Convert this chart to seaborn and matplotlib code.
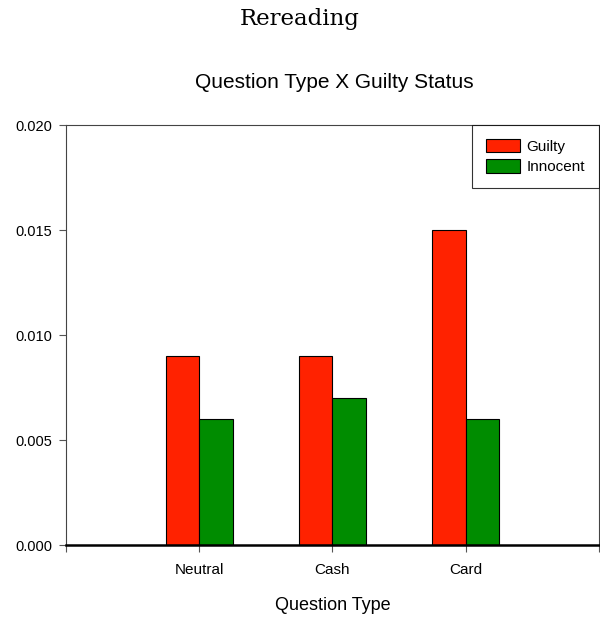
import pandas as pd
import matplotlib
matplotlib.use("Agg")
import matplotlib.pyplot as plt
import seaborn as sns
from matplotlib.ticker import FormatStrFormatter

# ---- data ----
question_types = ["Neutral", "Cash", "Card"]
status_levels = ["Guilty", "Innocent"]
guilty_vals = [0.009, 0.009, 0.015]
innocent_vals = [0.006, 0.007, 0.006]
# -------------------------------------

palette = {"Guilty": "#ff2200", "Innocent": "#008c00"}

df = pd.DataFrame({
    "Question Type": question_types * 2,
    "Status": ["Guilty"] * 3 + ["Innocent"] * 3,
    "value": guilty_vals + innocent_vals,
})

sns.set_style("white")
plt.rcParams["font.family"] = ["Liberation Sans", "DejaVu Sans"]
plt.rcParams["text.color"] = "black"
plt.rcParams["axes.labelcolor"] = "black"
plt.rcParams["xtick.labelcolor"] = "black"
plt.rcParams["ytick.labelcolor"] = "black"

fig = plt.figure(figsize=(6, 6.18), dpi=100)
ax = fig.add_axes([0.11, 0.1181, 0.888, 0.6796])

sns.barplot(data=df, x="Question Type", y="value", hue="Status",
            order=question_types, hue_order=status_levels, palette=palette,
            width=0.5, gap=0, edgecolor="black", linewidth=0.8,
            saturation=1, errorbar=None, ax=ax)

ax.set_xlim(-1, 3)
ax.set_ylim(0, 0.02)
ax.set_xticks([-1, 0, 1, 2, 3])
ax.set_xticklabels(["", "Neutral", "Cash", "Card", ""], fontsize=11)
ax.set_yticks([0, 0.005, 0.010, 0.015, 0.020])
ax.yaxis.set_major_formatter(FormatStrFormatter("%.3f"))
ax.tick_params(axis="y", labelsize=10.5, length=5, width=0.8, color="#555555",
               direction="out", left=True, pad=5)
ax.tick_params(axis="x", length=5, width=0.8, color="#555555",
               direction="out", bottom=True, pad=8)

ax.set_xlabel("Question Type", fontsize=13, labelpad=14)
ax.set_ylabel("")

for side in ["left", "top", "right"]:
    ax.spines[side].set_color("#444444")
    ax.spines[side].set_linewidth(0.8)
ax.spines["bottom"].set_color("black")
ax.spines["bottom"].set_linewidth(1.8)

leg = ax.legend(loc="upper right", fontsize=11, frameon=True, fancybox=False,
                edgecolor="black", borderaxespad=0, handlelength=2.2,
                handleheight=1.0, handletextpad=0.45, borderpad=0.9,
                labelspacing=0.35)
leg.get_frame().set_linewidth(0.8)

fig.text(0.5, 0.97, "Rereading", ha="center", va="center",
         fontsize=16.5, family=["DejaVu Serif"])
fig.text(0.557, 0.867, "Question Type X Guilty Status", ha="center",
         va="center", fontsize=15)

fig.savefig("out.png", dpi=100)
